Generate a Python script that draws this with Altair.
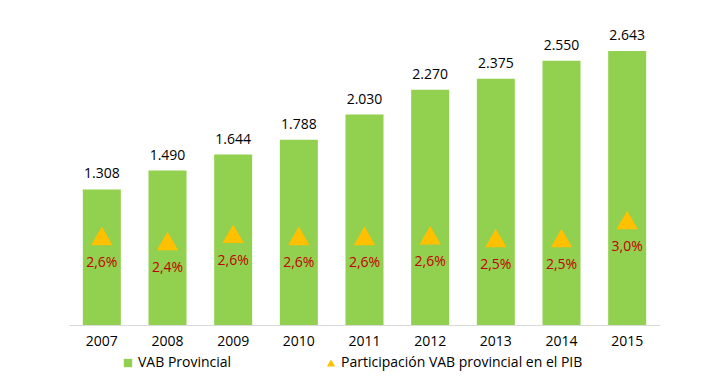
import altair as alt
import pandas as pd

years = ["2007", "2008", "2009", "2010", "2011", "2012", "2013", "2014", "2015"]
vab = [1308, 1490, 1644, 1788, 2030, 2270, 2375, 2550, 2643]
pct = [2.58, 2.43, 2.64, 2.58, 2.58, 2.60, 2.52, 2.52, 3.04]

s1 = "VAB Provincial"
s2 = "Participación VAB provincial en el PIB"

df = pd.DataFrame({
    "year": years,
    "vab": vab,
    "pct": pct,
    "vab_lbl": [f"{v:,}".replace(",", ".") for v in vab],
    "pct_lbl": [f"{p:.1f}".replace(".", ",") + "%" for p in pct],
    "s1": [s1] * len(years),
    "s2": [s2] * len(years),
})

FONT = "Open Sans"

x = alt.X("year:N", title=None,
          scale=alt.Scale(paddingInner=0.42, paddingOuter=0.21),
          axis=alt.Axis(labelAngle=0, ticks=False, domainColor="#D9D9D9",
                        domainWidth=1, labelPadding=9, labelFontSize=14,
                        labelColor="#000000", labelFont=FONT, grid=False))

base = alt.Chart(df)

bars = base.mark_bar(size=38).encode(
    x=x,
    y=alt.Y("vab:Q", scale=alt.Scale(domain=[0, 3000]), axis=None),
    color=alt.Color("s1:N", scale=alt.Scale(domain=[s1], range=["#92D050"]),
                    legend=alt.Legend(title=None, orient="none", legendX=52, legendY=342,
                                      symbolType="square", symbolSize=70,
                                      labelFontSize=14, labelFont=FONT, labelColor="#000000",
                                      symbolStrokeWidth=0, padding=0, labelOffset=3,
                                      labelLimit=600)),
)

bar_text = base.mark_text(baseline="middle", dy=-15, fontSize=14, font=FONT, color="#000000").encode(
    x=x,
    y=alt.Y("vab:Q", scale=alt.Scale(domain=[0, 3000]), axis=None),
    text="vab_lbl:N",
)

left = alt.layer(bars, bar_text)

pts = base.mark_point(shape="triangle-up", filled=True, size=460, opacity=1).encode(
    x=x,
    y=alt.Y("pct:Q", scale=alt.Scale(domain=[0, 9]), axis=None),
    fill=alt.Fill("s2:N", scale=alt.Scale(domain=[s2], range=["#FFC000"]),
                  legend=alt.Legend(title=None, orient="none", legendX=255, legendY=342,
                                    symbolType="triangle-up", symbolSize=70,
                                    labelFontSize=14, labelFont=FONT, labelColor="#000000",
                                    symbolStrokeWidth=0, padding=0, labelOffset=3,
                                    labelLimit=600)),
)

pct_text = base.mark_text(baseline="middle", dy=27, fontSize=14, font=FONT, color="#C00000").encode(
    x=x,
    y=alt.Y("pct:Q", scale=alt.Scale(domain=[0, 9]), axis=None),
    text="pct_lbl:N",
)

right = alt.layer(pts, pct_text)

chart = alt.layer(left, right).resolve_scale(y="independent").properties(
    width=591, height=311,
    padding={"left": 61, "top": 6, "right": 39, "bottom": 48},
    autosize=alt.AutoSizeParams(type="none"),
).configure(background="#FFFFFF").configure_view(stroke=None, strokeWidth=0)

chart.save("out.html", embed_options={"renderer": "svg", "actions": False})
